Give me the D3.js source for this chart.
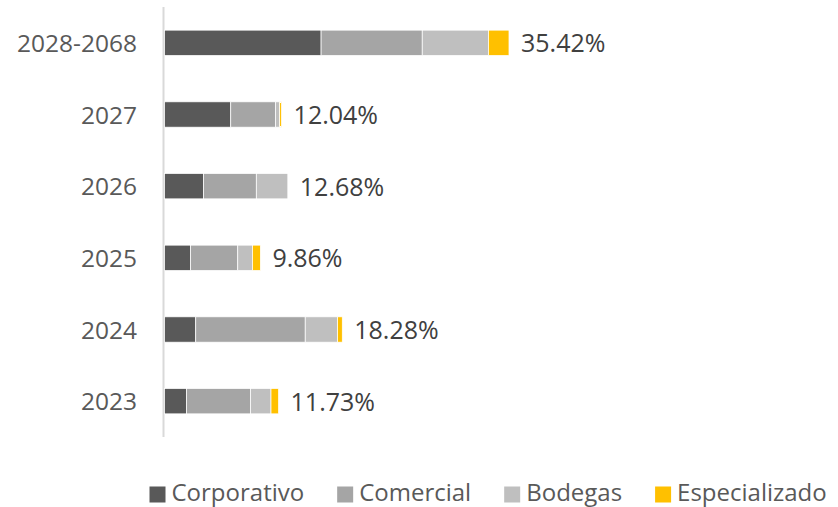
<!DOCTYPE html>
<html>

<head>
    <title>Stacked Bars</title>
    <script src="https://d3js.org/d3.v7.min.js"></script>
    <style>
        body {
            margin: 0;
            background: #fff;
        }

        text {
            font-family: "Open Sans", sans-serif;
        }

        .cat-label {
            font-size: 24.5px;
            fill: #595959;
        }

        .total-label {
            font-size: 25px;
            fill: #404040;
        }

        .legend text {
            font-size: 24px;
            fill: #595959;
        }
    </style>
</head>

<body>
    <script>
        // categories from top to bottom
        var categories = ["2028-2068", "2027", "2026", "2025", "2024", "2023"];
        var series = ["Corporativo", "Comercial", "Bodegas", "Especializado"];
        var colors = ["#595959", "#a5a5a5", "#bfbfbf", "#ffc000"];

        // percent values per category (same order as categories)
        var corporativo = [16.10, 6.81, 4.00, 2.67, 3.21, 2.26];
        var comercial = [10.40, 4.59, 5.44, 4.86, 11.26, 6.57];
        var bodegas = [6.80, 0.44, 3.24, 1.51, 3.32, 2.12];
        var especializado = [2.12, 0.20, 0.00, 0.82, 0.49, 0.78];
        var totals = ["35.42%", "12.04%", "12.68%", "9.86%", "18.28%", "11.73%"];

        var width = 838, height = 507;

        var svg = d3.select("body").append("svg")
            .attr("width", width)
            .attr("height", height);

        var rows = categories.map(function (c, i) {
            return {
                cat: c,
                Corporativo: corporativo[i],
                Comercial: comercial[i],
                Bodegas: bodegas[i],
                Especializado: especializado[i],
                total: totals[i]
            };
        });

        var x = d3.scaleLinear().domain([0, 40]).range([164.5, 164.5 + 40 * 9.726]);
        var y = d3.scaleBand().domain(categories).range([7, 437])
            .paddingInner(0.646).paddingOuter(0.323);

        var stack = d3.stack().keys(series);
        var layers = stack(rows);

        // vertical axis line
        svg.append("line")
            .attr("x1", 163.5).attr("x2", 163.5)
            .attr("y1", 7).attr("y2", 437)
            .attr("stroke", "#d9d9d9")
            .attr("stroke-width", 2);

        var layer = svg.selectAll(".layer")
            .data(layers)
            .enter()
            .append("g")
            .attr("class", "layer")
            .attr("fill", (d, i) => colors[i]);

        layer.selectAll("rect")
            .data(d => d)
            .enter()
            .append("rect")
            .attr("x", d => x(d[0]))
            .attr("y", d => y(d.data.cat))
            .attr("width", d => x(d[1]) - x(d[0]))
            .attr("height", y.bandwidth())
            .attr("stroke", "#fff")
            .attr("stroke-width", 0.75);

        // category labels
        svg.selectAll(".cat-label")
            .data(categories)
            .enter()
            .append("text")
            .attr("class", "cat-label")
            .attr("x", 137)
            .attr("y", d => y(d) + y.bandwidth() / 2 + 9)
            .attr("text-anchor", "end")
            .text(d => d);

        // total labels
        svg.selectAll(".total-label")
            .data(rows)
            .enter()
            .append("text")
            .attr("class", "total-label")
            .attr("x", d => x(d.Corporativo + d.Comercial + d.Bodegas + d.Especializado) + 12)
            .attr("y", d => y(d.cat) + y.bandwidth() / 2 + 9.5)
            .text(d => d.total);

        // legend
        var legend = svg.append("g").attr("class", "legend");
        var lx = 149.5;
        series.forEach(function (s, i) {
            var g = legend.append("g").attr("transform", "translate(" + lx + ",0)");
            g.append("rect")
                .attr("x", 0).attr("y", 486.5)
                .attr("width", 16).attr("height", 16)
                .attr("fill", colors[i]);
            var t = g.append("text")
                .attr("x", 22).attr("y", 501)
                .text(s);
            lx += 22 + t.node().getComputedTextLength() + 33;
        });
    </script>
</body>

</html>
